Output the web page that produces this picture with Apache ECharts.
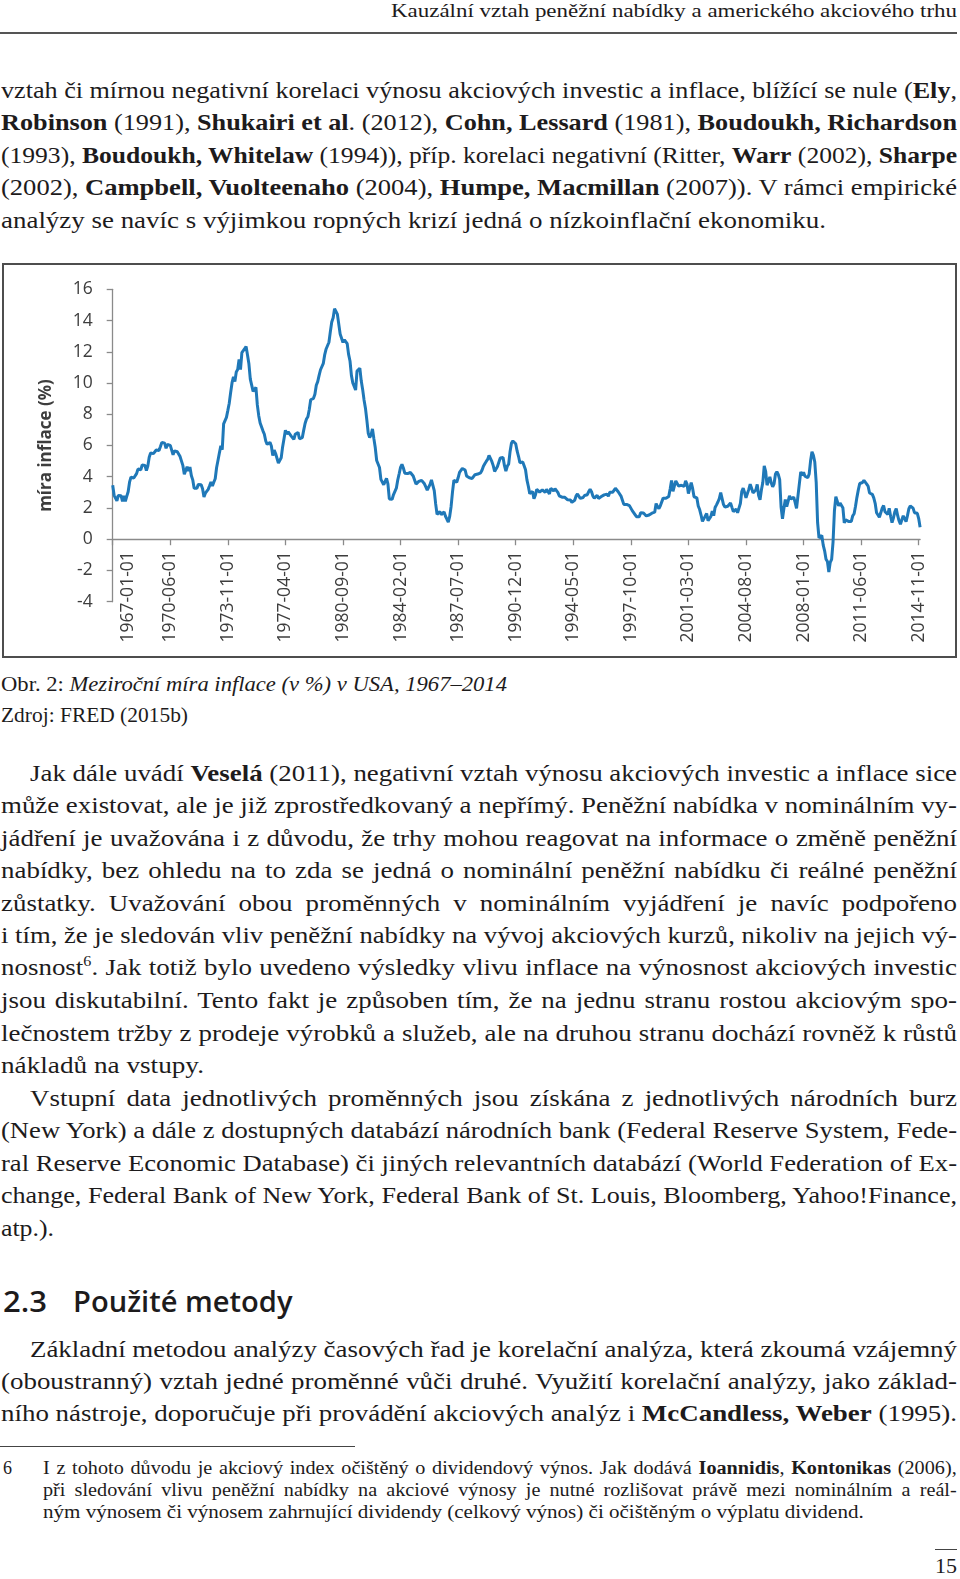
<!DOCTYPE html>
<html><head><meta charset="utf-8">
<script src="https://cdn.jsdelivr.net/npm/echarts@6/dist/echarts.min.js"></script>
<style>
html,body{margin:0;padding:0;background:#fff;}
#page{position:relative;width:960px;height:1579px;overflow:hidden;font-family:"Liberation Serif","Times New Roman",serif;color:#1d1b1c;}
.ln{position:absolute;white-space:nowrap;}
.ln>span{display:inline-block;transform-origin:0 50%;}
.hd{font-family:"Open Sans","Noto Sans",sans-serif;font-weight:600;}
#box{position:absolute;left:2px;top:263px;width:955px;height:395px;box-sizing:border-box;border:2px solid #4d4d4d;}
#chart{position:absolute;left:0;top:0;width:951px;height:391px;}
.rule{position:absolute;background:#444;}
</style></head>
<body><div id="page">
<div class="rule" style="left:0;top:32px;width:957px;height:2px;background:#555"></div>
<div id="box"><div id="chart"></div></div>
<div class="rule" style="left:0;top:1446px;width:355px;height:1px;"></div>
<div class="rule" style="left:935px;top:1549px;width:22px;height:1px;"></div>
</div>
<script>
// ---- chart data: year-on-year US CPI inflation (%), monthly, 1967-01 .. 2014-12 ----
const cpi1967to1976 = [
 3.46,2.81,2.80,2.46,2.80,2.79,2.78,2.43,2.77,2.42,2.74,3.04,
 3.65,3.97,3.93,3.92,3.91,4.20,4.49,4.48,4.45,4.75,4.73,4.72,
 4.40,4.68,5.25,5.52,5.51,5.48,5.44,5.71,5.70,5.68,5.93,6.20,
 6.18,6.15,5.82,6.06,6.04,6.01,5.98,5.41,5.66,5.63,5.60,5.57,
 5.29,5.00,4.71,4.16,4.40,4.64,4.36,4.62,4.08,3.80,3.27,3.27,
 3.27,3.51,3.50,3.49,3.23,2.71,2.95,2.94,3.19,3.42,3.67,3.41,
 3.65,3.87,4.59,5.06,5.53,5.98,5.73,7.38,7.36,7.80,8.25,8.71,
 9.39,10.02,10.39,10.09,10.71,10.86,11.51,10.86,11.95,12.06,12.20,12.34,
 11.80,11.23,10.25,10.21,9.47,9.39,9.72,8.60,7.91,7.44,7.38,6.94,
 6.72,6.29,6.07,6.05,6.20,5.97,5.35,5.71,5.49,5.46,4.88,4.86
];
const cpi1977to1986 = [
 5.21,5.91,6.44,6.97,6.73,6.87,6.83,6.62,6.60,6.39,6.72,6.70,
 6.84,6.43,6.41,6.50,6.97,7.41,7.70,7.84,8.31,8.93,8.89,9.02,
 9.28,9.86,10.09,10.49,10.85,10.89,11.26,11.82,12.18,12.07,12.61,13.29,
 13.91,14.18,14.76,14.73,14.41,14.38,13.13,12.87,12.60,12.77,12.65,12.52,
 11.83,11.41,10.49,10.00,9.78,9.55,10.76,10.80,10.95,10.14,9.59,8.92,
 8.39,7.62,6.78,6.51,6.68,7.06,6.44,5.85,5.04,5.14,4.59,3.83,
 3.71,3.49,3.60,3.90,3.55,2.58,2.46,2.56,2.86,2.85,3.27,3.79,
 4.19,4.60,4.80,4.56,4.23,4.22,4.20,4.29,4.27,4.26,4.05,3.95,
 3.53,3.52,3.70,3.69,3.77,3.76,3.55,3.35,3.14,3.23,3.51,3.80,
 3.89,3.11,2.26,1.59,1.49,1.77,1.58,1.57,1.75,1.47,1.28,1.10
];
const cpi1987to1996 = [
 1.46,2.10,3.03,3.78,3.86,3.65,3.93,4.28,4.36,4.53,4.53,4.43,
 4.05,3.94,3.93,3.90,3.89,3.96,4.13,4.02,4.17,4.25,4.25,4.42,
 4.67,4.83,4.98,5.11,5.36,5.17,4.98,4.71,4.34,4.49,4.66,4.65,
 5.20,5.26,5.23,4.71,4.36,4.67,4.82,5.62,6.16,6.29,6.27,6.11,
 5.65,5.31,4.90,4.89,4.95,4.70,4.45,3.80,3.39,2.92,2.99,3.06,
 2.60,2.82,3.19,3.18,3.02,3.09,3.16,3.15,2.99,3.20,3.05,2.90,
 3.26,3.25,3.09,3.23,3.22,3.00,2.78,2.77,2.69,2.75,2.68,2.75,
 2.52,2.52,2.51,2.36,2.29,2.49,2.77,2.90,2.96,2.61,2.67,2.67,
 2.80,2.86,2.85,3.05,3.19,3.04,2.76,2.62,2.54,2.81,2.61,2.54,
 2.73,2.65,2.84,2.90,2.89,2.75,3.00,2.88,3.00,2.99,3.26,3.32
];
const cpi1997to2006 = [
 3.04,3.03,2.76,2.50,2.23,2.30,2.23,2.23,2.15,2.08,1.83,1.70,
 1.57,1.44,1.37,1.44,1.69,1.68,1.68,1.62,1.49,1.49,1.55,1.61,
 1.67,1.61,1.73,2.28,2.09,1.96,2.14,2.26,2.63,2.56,2.62,2.68,
 2.74,3.22,3.76,3.07,3.19,3.73,3.66,3.41,3.45,3.45,3.45,3.39,
 3.73,3.53,2.92,3.27,3.62,3.25,2.72,2.72,2.65,2.13,1.90,1.55,
 1.14,1.14,1.48,1.64,1.18,1.07,1.46,1.80,1.51,2.03,2.20,2.38,
 2.60,2.98,3.02,2.22,2.06,2.11,2.11,2.16,2.32,2.04,1.77,1.88,
 1.93,1.69,1.74,2.29,3.05,3.27,2.99,2.65,2.54,3.19,3.52,3.26,
 2.97,3.01,3.15,3.51,2.80,2.53,3.17,3.64,4.69,4.35,3.46,3.42,
 3.99,3.60,3.36,3.55,4.17,4.32,4.15,3.82,2.06,1.31,1.97,2.54
];
const cpi2007to2014 = [
 2.08,2.42,2.78,2.57,2.69,2.69,2.36,1.97,2.76,3.54,4.31,4.08,
 4.28,4.03,3.98,3.94,4.18,5.02,5.60,5.37,4.94,3.66,1.07,0.09,
 0.03,0.24,-0.38,-0.74,-1.28,-1.43,-2.10,-1.48,-1.29,-0.18,1.84,2.72,
 2.63,2.14,2.31,2.24,2.02,1.05,1.24,1.15,1.14,1.17,1.14,1.50,
 1.63,2.11,2.68,3.16,3.57,3.56,3.63,3.77,3.87,3.53,3.39,2.96,
 2.93,2.87,2.65,2.30,1.70,1.66,1.41,1.69,1.99,2.16,1.76,1.74,
 1.59,1.98,1.47,1.06,1.36,1.75,1.96,1.52,1.18,0.96,1.24,1.50,
 1.58,1.13,1.51,1.95,2.13,2.07,1.99,1.70,1.66,1.66,1.32,0.76
];
const tickLabels = ['1967-01-01','1970-06-01','1973-11-01','1977-04-01','1980-09-01','1984-02-01','1987-07-01',
 '1990-12-01','1994-05-01','1997-10-01','2001-03-01','2004-08-01','2008-01-01','2011-06-01','2014-11-01'];
const yAxisTitle = 'míra inflace (%)';

const values = [].concat(cpi1967to1976, cpi1977to1986, cpi1987to1996, cpi1997to2006, cpi2007to2014);
const categories = [];
for (let y = 1967; y <= 2014; y++) for (let m = 1; m <= 12; m++) categories.push(y + '-' + String(m).padStart(2,'0') + '-01');

const AXC = '#8a8a8a', TXC = '#3d3d3d', FONT = '"Open Sans","Noto Sans",sans-serif';
const Y_MIN = -4, Y_MAX = 16, GRID_H = 312.4;
const chart = echarts.init(document.getElementById('chart'), null, {renderer:'canvas'});
chart.setOption({
  animation:false,
  grid:{left:108.7, top:24.3, width:807.4, height:GRID_H, containLabel:false, outerBoundsMode:'none'},
  xAxis:{type:'category', data:categories, boundaryGap:false,
    // axis (line, ticks, labels) placed at the value 0 of the y axis
    offset: -GRID_H * (0 - Y_MIN) / (Y_MAX - Y_MIN),
    axisLine:{show:true, onZero:false, lineStyle:{color:AXC, width:1.3}},
    axisTick:{show:true, length:6, interval:(i,v)=>tickLabels.includes(v), lineStyle:{color:AXC, width:1.3}},
    axisLabel:{show:true, interval:(i,v)=>tickLabels.includes(v), rotate:90, margin:12, fontSize:17.5, color:TXC, fontFamily:FONT,
      formatter:(v,i)=> i===0 ? '{first|'+v+'}' : v,
      rich:{first:{fontSize:17.5, color:TXC, fontFamily:FONT, padding:[31,0,0,0]}}},
    splitLine:{show:false}},
  yAxis:{type:'value', min:Y_MIN, max:Y_MAX, interval:2, name:yAxisTitle, nameLocation:'middle', nameGap:58, nameRotate:90,
    nameTextStyle:{fontSize:17, fontWeight:'bold', color:TXC, fontFamily:FONT},
    axisLine:{show:true, lineStyle:{color:AXC, width:1.3}},
    axisTick:{show:true, length:6, lineStyle:{color:AXC, width:1.3}},
    axisLabel:{margin:20, fontSize:17.5, color:TXC, fontFamily:FONT},
    splitLine:{show:false}},
  series:[{type:'line', data:values, showSymbol:false, symbol:'none', smooth:false,
    lineStyle:{color:'#1f78b8', width:3}, itemStyle:{color:'#1f78b8'}}]
});

// ---- page text ----
const CLS = {
  body:{fs:24, lh:32, off:18}, cap:{fs:21, lh:28, off:16}, fn:{fs:18, lh:22, off:13},
  hdr:{fs:19, lh:24, off:14}, pg:{fs:20, lh:26, off:15}, h:{fs:28, lh:36, off:19}
};
const lines = [
 ['hdr',13,null,566,'r','Kauzální vztah peněžní nabídky a amerického akciového trhu'],
 ['body',91.7,1,956,'j','vztah či mírnou negativní korelaci výnosu akciových investic a inflace, blížící se nule (<b>Ely</b>,'],
 ['body',123.9,1,956,'j','<b>Robinson</b> (1991), <b>Shukairi et al</b>. (2012), <b>Cohn, Lessard</b> (1981), <b>Boudoukh, Richardson</b>'],
 ['body',157.1,1,956,'j','(1993), <b>Boudoukh, Whitelaw</b> (1994)), příp. korelaci negativní (Ritter, <b>Warr</b> (2002), <b>Sharpe</b>'],
 ['body',189.4,1,956,'j','(2002), <b>Campbell, Vuolteenaho</b> (2004), <b>Humpe, Macmillan</b> (2007)). V rámci empirické'],
 ['body',221.6,1,825,'l','analýzy se navíc s výjimkou ropných krizí jedná o nízkoinflační ekonomiku.'],
 ['cap',686,1,506,'l','Obr. 2: <i>Meziroční míra inflace (v %) v USA, 1967–2014</i>'],
 ['cap',717,1,187,'l','Zdroj: FRED (2015b)'],
 ['body',774.7,30,927,'j','Jak dále uvádí <b>Veselá</b> (2011), negativní vztah výnosu akciových investic a inflace sice'],
 ['body',806.9,1,956,'j','může existovat, ale je již zprostředkovaný a nepřímý. Peněžní nabídka v nominálním vy-'],
 ['body',840.1,1,956,'j','jádření je uvažována i z důvodu, že trhy mohou reagovat na informace o změně peněžní'],
 ['body',872.4,1,956,'j','nabídky, bez ohledu na to zda se jedná o nominální peněžní nabídku či reálné peněžní'],
 ['body',904.6,1,956,'j','zůstatky. Uvažování obou proměnných v nominálním vyjádření je navíc podpořeno'],
 ['body',936.8,1,956,'j','i tím, že je sledován vliv peněžní nabídky na vývoj akciových kurzů, nikoliv na jejich vý-'],
 ['body',969.1,1,956,'j','nosnost<sup style="font-size:60%;line-height:0">6</sup>. Jak totiž bylo uvedeno výsledky vlivu inflace na výnosnost akciových investic'],
 ['body',1002.3,1,956,'j','jsou diskutabilní. Tento fakt je způsoben tím, že na jednu stranu rostou akciovým spo-'],
 ['body',1034.5,1,956,'j','lečnostem tržby z prodeje výrobků a služeb, ale na druhou stranu dochází rovněž k růstů'],
 ['body',1066.8,1,203,'l','nákladů na vstupy.'],
 ['body',1100,30,927,'j','Vstupní data jednotlivých proměnných jsou získána z jednotlivých národních burz'],
 ['body',1132.2,1,956,'j','(New York) a dále z dostupných databází národních bank (Federal Reserve System, Fede-'],
 ['body',1164.5,1,956,'j','ral Reserve Economic Database) či jiných relevantních databází (World Federation of Ex-'],
 ['body',1196.8,1,956,'j','change, Federal Bank of New York, Federal Bank of St. Louis, Bloomberg, Yahoo!Finance,'],
 ['body',1230,1,53,'l','atp.).'],
 ['h',1301.5,3,44,'l','2.3'],
 ['h',1301.5,72.5,219.5,'l','Použité metody'],
 ['body',1350.9,30,927,'j','Základní metodou analýzy časových řad je korelační analýza, která zkoumá vzájemný'],
 ['body',1383.1,1,956,'j','(oboustranný) vztah jedné proměnné vůči druhé. Využití korelační analýzy, jako základ-'],
 ['body',1415.3,1,956,'j','ního nástroje, doporučuje při provádění akciových analýz i <b>McCandless, Weber</b> (1995).'],
 ['fn',1469.7,3,9,'n','6'],
 ['fn',1469.7,43.3,913.7,'j','I z tohoto důvodu je akciový index očištěný o dividendový výnos. Jak dodává <b>Ioannidis</b>, <b>Kontonikas</b> (2006),'],
 ['fn',1491.9,43.3,913.7,'j','při sledování vlivu peněžní nabídky na akciové výnosy je nutné rozlišovat právě mezi nominálním a reál-'],
 ['fn',1514.1,43.3,820.7,'l','ným výnosem či výnosem zahrnující dividendy (celkový výnos) či očištěným o výplatu dividend.'],
 ['pg',1567.5,null,22,'r','15']
];
const page = document.getElementById('page');
const items = [];
lines.forEach(([cls,cy,left,T,mode,html])=>{
  const c = CLS[cls];
  const d = document.createElement('div');
  d.className = 'ln' + (cls==='h' ? ' hd' : '');
  d.style.fontSize = c.fs+'px'; d.style.lineHeight = c.lh+'px';
  d.style.top = (cy - c.off)+'px';
  if (mode==='r') d.style.right = '3px'; else d.style.left = left+'px';
  const sp = document.createElement('span'); sp.innerHTML = html;
  if (mode==='r') sp.style.transformOrigin = '100% 50%';
  d.appendChild(sp); page.appendChild(d);
  items.push({sp,T,mode,cls});
});
function fitAll(){
  let ks = [];
  items.forEach(it=>{ it.w = it.sp.getBoundingClientRect().width; if(it.cls==='body' && it.mode==='l' && it.T>300) ks.push(it.T/it.w); });
  const K0 = ks.length ? ks.reduce((a,b)=>a+b,0)/ks.length : 1;
  items.forEach(it=>{
    if (it.mode==='n') return;
    if (it.mode==='j') {
      const n = (it.sp.textContent.match(/ /g)||[]).length;
      const k = Math.min(it.T/it.w, Math.max(K0,0.9));
      const ws = n ? (it.T/k - it.w)/n : 0;
      it.sp.style.wordSpacing = ws+'px';
      it.sp.style.transform = 'scaleX('+k+')';
    } else {
      it.sp.style.transform = 'scaleX('+(it.T/it.w)+')';
    }
  });
}
fitAll();
</script>
</body></html>
